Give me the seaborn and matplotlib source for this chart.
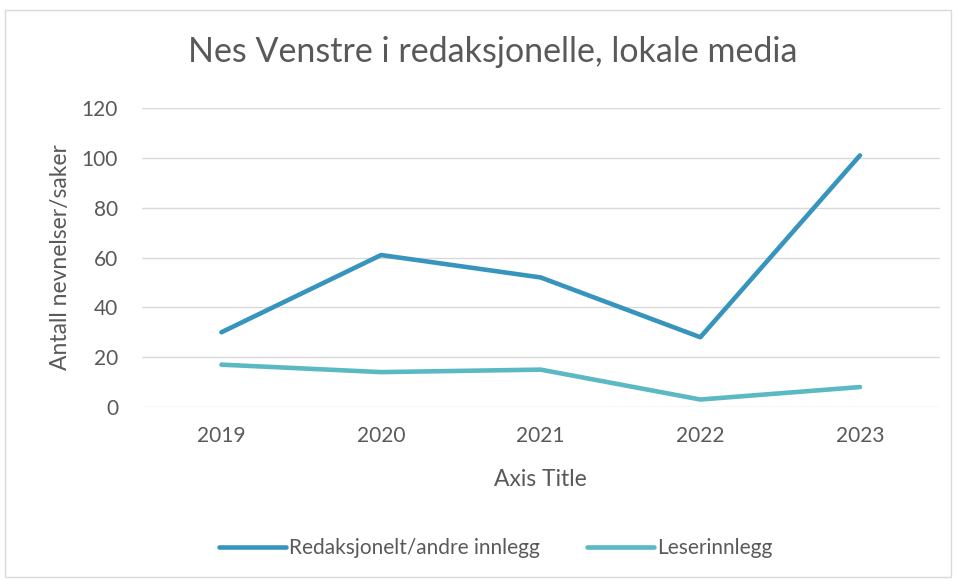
import pandas as pd
import seaborn as sns
import matplotlib.pyplot as plt
from matplotlib.patches import Rectangle

years = ["2019", "2020", "2021", "2022", "2023"]
redaksjonelt = [30, 61, 52, 28, 101]
leserinnlegg = [17, 14, 15, 3, 8]
series_names = ["Redaksjonelt/andre innlegg", "Leserinnlegg"]
colors = ["#3795BD", "#5BB9C3"]

df = pd.DataFrame({
    "year": years * 2,
    "value": redaksjonelt + leserinnlegg,
    "series": [series_names[0]] * len(years) + [series_names[1]] * len(years),
})

sns.set_style("white")
plt.rcParams['font.family'] = ['Lato', 'DejaVu Sans']
text_col = "#595959"

fig = plt.figure(figsize=(9.57, 5.81), dpi=100)
ax = fig.add_axes([0.148, 0.2995, 0.834, 0.5145])

sns.lineplot(data=df, x="year", y="value", hue="series", palette=colors,
             linewidth=3.3, solid_capstyle="round", sort=False, ax=ax, legend=False)

ax.set_xlim(-0.5, 4.5)
ax.set_ylim(0, 120)
ax.set_yticks(range(0, 121, 20))
ax.yaxis.grid(True, color="#D9D9D9", linewidth=1)
ax.set_axisbelow(True)
for s in ax.spines.values():
    s.set_visible(False)
ax.tick_params(axis="both", length=0, labelsize=15, labelcolor=text_col)
ax.tick_params(axis="x", pad=14)
ax.tick_params(axis="y", pad=17)

ax.set_xlabel("Axis Title", fontsize=16.5, color=text_col, labelpad=16)
ax.set_ylabel("Antall nevnelser/saker", fontsize=16.5, color=text_col, labelpad=8)
fig.text(0.515, 0.91, "Nes Venstre i redaksjonelle, lokale media", ha="center", va="center",
         fontsize=24.5, color=text_col)

handles = [plt.Line2D([0], [0], color=c, linewidth=3.3, solid_capstyle="round") for c in colors]
fig.legend(handles, series_names, loc="center", bbox_to_anchor=(0.518, 0.057), ncol=2,
           frameon=False, fontsize=15, labelcolor=text_col, handlelength=3.2,
           handletextpad=0.15, columnspacing=2.3)

fig.patches.append(Rectangle((5 / 957, 4 / 581), 946 / 957, 567 / 581, transform=fig.transFigure,
                             fill=False, edgecolor="#D9D9D9", linewidth=1))

fig.savefig("out.png", dpi=100)
